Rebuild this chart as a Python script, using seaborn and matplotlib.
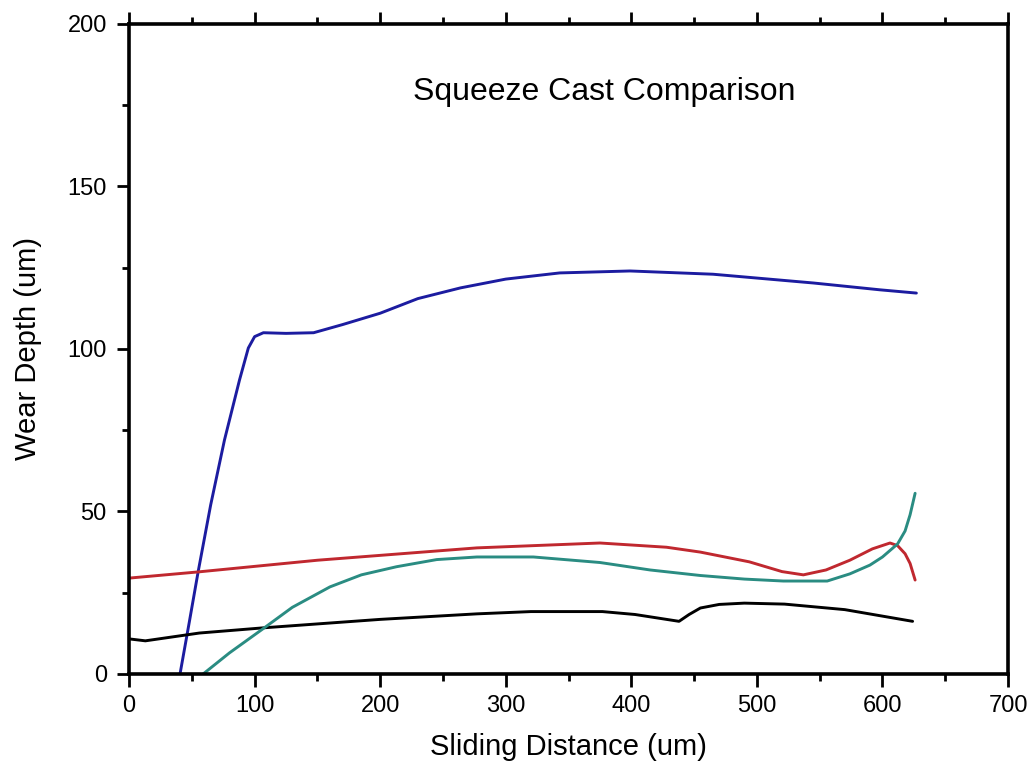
import matplotlib
matplotlib.use("Agg")
import matplotlib.pyplot as plt
from matplotlib.ticker import MultipleLocator
import seaborn as sns
import pandas as pd

# values
blue_x = [40.6, 48, 55, 65, 76, 88, 95, 100, 107, 125, 147, 170, 200, 230, 264, 300, 343, 399, 465, 545, 598, 627]
blue_y = [0, 16, 31.4, 52, 72, 90.5, 100.3, 103.8, 105, 104.8, 105, 107.5, 111, 115.5, 118.8, 121.5, 123.4, 124, 123, 120.3, 118.2, 117.2]

black_x = [0, 13, 56, 107, 200, 277, 320, 377, 403, 438, 446, 455, 470, 490, 522, 570, 624]
black_y = [10.8, 10.2, 12.6, 14.2, 16.8, 18.5, 19.2, 19.2, 18.3, 16.2, 18.3, 20.3, 21.4, 21.8, 21.5, 19.8, 16.2]

red_x = [0, 55, 150, 277, 375, 428, 455, 494, 520, 537, 555, 574, 592, 606, 612, 618, 622, 626]
red_y = [29.5, 31.4, 35, 38.8, 40.3, 39, 37.5, 34.5, 31.5, 30.5, 32, 35, 38.5, 40.3, 39.5, 37, 34, 28.9]

teal_x = [59, 80, 107, 130, 160, 185, 213, 245, 277, 322, 375, 415, 455, 490, 521, 556, 574, 590, 600, 612, 618, 622, 626]
teal_y = [0, 6.5, 14, 20.5, 26.8, 30.5, 33, 35.2, 36, 36, 34.3, 32, 30.3, 29.2, 28.6, 28.6, 30.8, 33.5, 36, 40, 44, 49, 55.6]

series = [
    ("blue", blue_x, blue_y, "#1c1ca0"),
    ("black", black_x, black_y, "#000000"),
    ("red", red_x, red_y, "#c0282f"),
    ("teal", teal_x, teal_y, "#2a8c82"),
]

sns.set_style("white")
plt.rcParams["font.family"] = ["Liberation Sans", "DejaVu Sans"]
plt.rcParams["text.color"] = "black"
plt.rcParams["axes.labelcolor"] = "black"
plt.rcParams["xtick.color"] = "black"
plt.rcParams["ytick.color"] = "black"

fig = plt.figure(figsize=(10.34, 7.78), dpi=100)
ax = fig.add_axes([0.1248, 0.1337, 0.8501, 0.8355])

for name, xs, ys, col in series:
    df = pd.DataFrame({"x": xs, "y": ys})
    sns.lineplot(data=df, x="x", y="y", ax=ax, color=col, linewidth=2.1, sort=False)

ax.set_xlim(0, 700)
ax.set_ylim(0, 200)
ax.xaxis.set_major_locator(MultipleLocator(100))
ax.xaxis.set_minor_locator(MultipleLocator(50))
ax.yaxis.set_major_locator(MultipleLocator(50))
ax.yaxis.set_minor_locator(MultipleLocator(25))

for s in ax.spines.values():
    s.set_color("black")
    s.set_linewidth(2.6)

ax.tick_params(which="both", direction="out", top=True, right=False, labeltop=False,
               bottom=True, left=True, color="black", width=2)
ax.tick_params(which="major", length=9, labelsize=17)
ax.tick_params(axis="y", which="major", pad=7)
ax.tick_params(axis="x", which="major", pad=6)
ax.tick_params(which="minor", length=5)

ax.set_xlabel("Sliding Distance (um)", fontsize=21, labelpad=12)
ax.set_ylabel("Wear Depth (um)", fontsize=21, labelpad=18)
ax.text(226, 179, "Squeeze Cast Comparison", fontsize=23, ha="left", va="center")

fig.savefig("out.png", dpi=100)
